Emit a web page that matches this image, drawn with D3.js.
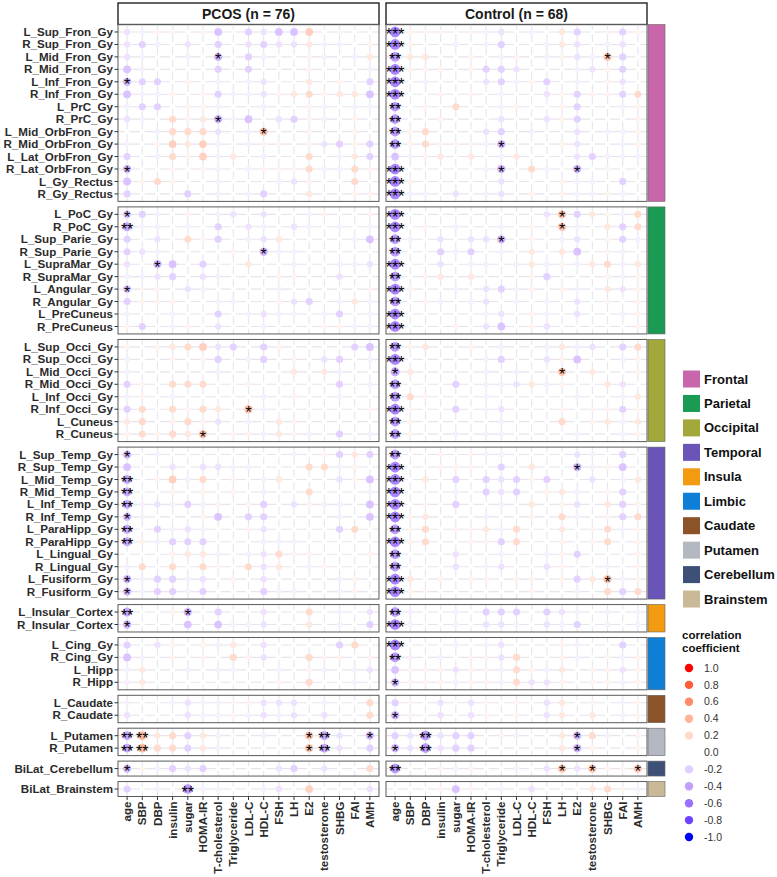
<!DOCTYPE html>
<html>
<head>
<meta charset="utf-8">
<script src="https://cdn.jsdelivr.net/npm/d3@7"></script>
<style>
  body { margin: 0; background: #fff; }
  svg { display: block; font-family: "Liberation Sans", Arial, sans-serif; }
</style>
</head>
<body>
<svg id="chart"></svg>
<script>
var W = 777, H = 877;

// clinical variables (x axis)
var variables = ["age", "SBP", "DBP", "insulin", "sugar", "HOMA-IR", "T-cholesterol", "Triglyceride",
  "LDL-C", "HDL-C", "FSH", "LH", "E2", "testosterone", "SHBG", "FAI", "AMH"];

var regions = ["Frontal", "Parietal", "Occipital", "Temporal", "Insula", "Limbic", "Caudate", "Putamen", "Cerebellum", "Brainstem"];
var regionColors = ["#C966AB", "#1B9A53", "#A3A83B", "#6B54B8", "#F29B11", "#0E7ED6", "#8C5228", "#B4B9C1", "#3D5078", "#C9B996"];

var frontalRois = ["L_Sup_Fron_Gy", "R_Sup_Fron_Gy", "L_Mid_Fron_Gy", "R_Mid_Fron_Gy", "L_Inf_Fron_Gy", "R_Inf_Fron_Gy",
  "L_PrC_Gy", "R_PrC_Gy", "L_Mid_OrbFron_Gy", "R_Mid_OrbFron_Gy", "L_Lat_OrbFron_Gy", "R_Lat_OrbFron_Gy", "L_Gy_Rectus", "R_Gy_Rectus"];
var parietalRois = ["L_PoC_Gy", "R_PoC_Gy", "L_Sup_Parie_Gy", "R_Sup_Parie_Gy", "L_SupraMar_Gy", "R_SupraMar_Gy",
  "L_Angular_Gy", "R_Angular_Gy", "L_PreCuneus", "R_PreCuneus"];
var occipitalRois = ["L_Sup_Occi_Gy", "R_Sup_Occi_Gy", "L_Mid_Occi_Gy", "R_Mid_Occi_Gy", "L_Inf_Occi_Gy", "R_Inf_Occi_Gy", "L_Cuneus", "R_Cuneus"];
var temporalRois = ["L_Sup_Temp_Gy", "R_Sup_Temp_Gy", "L_Mid_Temp_Gy", "R_Mid_Temp_Gy", "L_Inf_Temp_Gy", "R_Inf_Temp_Gy",
  "L_ParaHipp_Gy", "R_ParaHipp_Gy", "L_Lingual_Gy", "R_Lingual_Gy", "L_Fusiform_Gy", "R_Fusiform_Gy"];
var insulaRois = ["L_Insular_Cortex", "R_Insular_Cortex"];
var limbicRois = ["L_Cing_Gy", "R_Cing_Gy", "L_Hipp", "R_Hipp"];
var caudateRois = ["L_Caudate", "R_Caudate"];
var putamenRois = ["L_Putamen", "R_Putamen"];
var cerebellumRois = ["BiLat_Cerebellum"];
var brainstemRois = ["BiLat_Brainstem"];
var regionRois = [frontalRois, parietalRois, occipitalRois, temporalRois, insulaRois, limbicRois, caudateRois, putamenRois, cerebellumRois, brainstemRois];

// correlation, one char per variable (see codeValue)
var codeValue = { "0": 0, "1": 0.06, "2": 0.12, "3": 0.19, "4": 0.25, "5": 0.3, "6": 0.36,
  "a": -0.06, "b": -0.12, "c": -0.19, "d": -0.25, "e": -0.3, "f": -0.36, "g": -0.42, "i": -0.52 };

var pcosR = [
  "ba1101d0cbdd40100", "bca0b0c0bcbb2aa01", "ba00a0e0ca001a0a2", "da0000c0c0001000a", "ecc010a0ab002010c",
  "daa101caab123122d", "acc011a00a001a0aa", "ba0312ead0bc1a010", "00a333b0a50010010", "a01424a0a1101bc1c",
  "c0a314a20a0030a2c", "e00101a0a1113aa31", "d13100a000ab10030", "c000c0a0ac0020011",
  "dca010ab0b00a1001", "faa0a0c0ba0ba0a0a", "c0b031c0ab20000ad", "cba000010eaa00000", "b0ed0c00200a00aab",
  "aabc0ba0001100b00", "d110ba0000a000001", "c11100aa001bc0a2a", "a00a00c0abaa0ac0a", "1c0a10b00a00011aa",
  "101234bc0c10000cd", "a00101c0ac010bc0a", "a00000a0000202a00", "c1033300100000c0a", "a10a00000a0100a00",
  "c30313205a0000001", "230131b0a02100000", "131325011a21a0c0a",
  "e0a00000000a01c2c", "d00b0bbaa00033a10", "f014a3010a2000b1d", "f00101010a003000a", "fabaca101c0b1aa0d",
  "ea0001d0cc0000a0d", "f0caba001b0000c30", "f1accc000aaa00000", "000122a0ab3110001", "a30303103b20a1000",
  "eaccab010b0000a10", "eaccac000caa00a10",
  "f001e0c00b0030a0b", "e000d0daab0020a0c",
  "c0b101a20b0000c30", "da0101031b0031101", "a200a0aa00a01a0ab", "a20000000010300a0",
  "a00abaa11bbb0a003", "b000baa1abab0b003",
  "f623c2a00a005fb0e", "f633c2a000005fb0c",
  "e1acbc0000bc0b003",
  "c0a0gaa00ab04000b"
];
var controlR = [
  "i11101ab0a02c01c1", "i100a0ac00a2b0ab0", "g220010a10a1ba5c0", "i11101ccb000ab1c0", "i0a000bca1c0a01b0",
  "i001010a00b1c11c3", "g010300a1001c00a1", "g001000b00b1c0001", "g13000bc0a00b0aa1", "g13111ae0001b00a1",
  "da12020a2000bcaaa", "i00000ae03a0e0100", "i100000b0001aa0c0", "iaa0b0ab0101aa1a0",
  "i000000000b5c21a3", "i010a00a0105a02c3", "ga0b0bbe010ab01ca", "g00cac0a0202d01a0", "i00b0aa0a2a1a23a2",
  "g012020001c0001a1", "i100a0bca101a02b1", "g01a0ab0a0a0b0101", "i00000ab01a0b00a1", "i00010bd01b000001",
  "g120010a00a2ab0c3", "i00000ac00b1d00a1", "f20000a0a00502001", "g000c0aab2a1002b0", "g31000a00000a00a2",
  "i100c0ab0001011c1", "g100000a0003012a2", "g100a0aa0000a00a1",
  "g00101aa0000ba0c0", "i001110c0200ea1d0", "i020c0cbc1c00b0a2", "i000a0cbc012a01c0", "i010c00a0201b02c1",
  "i12000a00103a01c3", "g130112a3002013a1", "i130011c300101301", "g000b00a00a1c0001", "g000b0ab00b100a01",
  "i20101101101c25a1", "i11000000100a03c3",
  "ga00a0ccc0cba0a0a", "ia00a0bba0bac0a0a",
  "i000a0ab0001a00c0", "ga0a011b3001a01a1", "d111b11a31a2011b1", "e111a11a3bb1011a1",
  "c10b0b1010b2010a1", "e10b0b1010b2020a1",
  "cbgbcc01a002e3a01", "ebgbcc000002e1001",
  "g001a100a0b5b5115",
  "0001d10a0b000231a"
];

// number of asterisks in the age column, one digit per ROI
var pcosAgeStars = "00001000000100" + "1200001000" + "00000000" + "102221220011" + "21" + "0000" + "00" + "22" + "1" + "0";
var controlAgeStars = "33233322220333" + "3322323233" + "23122322" + "233333232233" + "23" + "3201" + "01" + "01" + "2" + "0";

// other significant cells
var pcosStars = [
  ["L_Mid_Fron_Gy", "T-cholesterol", 1], ["R_PrC_Gy", "T-cholesterol", 1], ["L_Mid_OrbFron_Gy", "HDL-C", 1],
  ["R_Sup_Parie_Gy", "HDL-C", 1], ["L_SupraMar_Gy", "DBP", 1], ["R_Inf_Occi_Gy", "LDL-C", 1],
  ["R_Cuneus", "HOMA-IR", 1], ["L_Insular_Cortex", "sugar", 1],
  ["L_Putamen", "SBP", 2], ["L_Putamen", "E2", 1], ["L_Putamen", "testosterone", 2], ["L_Putamen", "AMH", 1],
  ["R_Putamen", "SBP", 2], ["R_Putamen", "E2", 1], ["R_Putamen", "testosterone", 2],
  ["BiLat_Brainstem", "sugar", 2]
];
var controlStars = [
  ["L_Mid_Fron_Gy", "SHBG", 1], ["R_Mid_OrbFron_Gy", "Triglyceride", 1], ["R_Lat_OrbFron_Gy", "Triglyceride", 1],
  ["R_Lat_OrbFron_Gy", "E2", 1], ["L_PoC_Gy", "LH", 1], ["R_PoC_Gy", "LH", 1], ["L_Sup_Parie_Gy", "Triglyceride", 1],
  ["L_Mid_Occi_Gy", "LH", 1], ["R_Sup_Temp_Gy", "E2", 1], ["L_Fusiform_Gy", "SHBG", 1],
  ["L_Putamen", "DBP", 2], ["L_Putamen", "E2", 1], ["R_Putamen", "DBP", 2], ["R_Putamen", "E2", 1],
  ["BiLat_Cerebellum", "LH", 1], ["BiLat_Cerebellum", "testosterone", 1], ["BiLat_Cerebellum", "AMH", 1]
];

var legendTicks = [1.0, 0.8, 0.6, 0.4, 0.2, 0.0, -0.2, -0.4, -0.6, -0.8, -1.0];

var svg = d3.select("#chart").attr("width", W).attr("height", H);
svg.append("rect").attr("width", W).attr("height", H).attr("fill", "#fff");

var color = d3.scaleLinear().domain([-1, 0, 1]).range(["blue", "white", "red"]).interpolate(d3.interpolateLab);
var radius = d3.scaleLinear().domain([0, 1]).range([2.5, 8]);

var allRois = [].concat.apply([], regionRois);

// vertical layout: facets with free space
var panelTop = 24.5, panelBottom = 796.5, gap = 5.5;
var unit = (panelBottom - panelTop - gap * (regions.length - 1)) / (allRois.length + 0.2 * regions.length);
var bands = [];
var yy = panelTop;
regionRois.forEach(function(rois, k) {
  var h = (rois.length + 0.2) * unit;
  bands.push({ region: regions[k], color: regionColors[k], rois: rois, top: yy, bottom: yy + h,
    y: d3.scalePoint().domain(rois).range([yy, yy + h]).padding(0.6) });
  yy += h + gap;
});

var panels = [
  { title: "PCOS (n = 76)", left: 118, right: 379, r: pcosR, ageStars: pcosAgeStars, stars: pcosStars },
  { title: "Control (n = 68)", left: 386, right: 647, r: controlR, ageStars: controlAgeStars, stars: controlStars }
];

var defs = svg.append("defs");

panels.forEach(function(p, pi) {
  var x = d3.scalePoint().domain(variables).range([p.left, p.right]).padding(0.6);

  // star lookup
  var starMap = {};
  allRois.forEach(function(roi, i) {
    var n = +p.ageStars.charAt(i);
    if (n > 0) starMap[roi + "|age"] = n;
  });
  p.stars.forEach(function(s) { starMap[s[0] + "|" + s[1]] = s[2]; });

  // strip
  svg.append("rect")
    .attr("x", p.left).attr("y", 3)
    .attr("width", p.right - p.left).attr("height", panelTop - 3)
    .attr("fill", "#fff").attr("stroke", "#111").attr("stroke-width", 1.3);
  svg.append("text")
    .attr("x", (p.left + p.right) / 2).attr("y", 18.5)
    .attr("text-anchor", "middle")
    .style("font-size", "14px").style("font-weight", "bold").style("fill", "#1a1a1a")
    .text(p.title);

  bands.forEach(function(b, bi) {
    var clipId = "clip-" + pi + "-" + bi;
    defs.append("clipPath").attr("id", clipId)
      .append("rect").attr("x", p.left).attr("y", b.top)
      .attr("width", p.right - p.left).attr("height", b.bottom - b.top);

    var g = svg.append("g").attr("clip-path", "url(#" + clipId + ")");

    // grid
    g.selectAll(".gx").data(variables).enter().append("line")
      .attr("x1", function(d) { return x(d); }).attr("x2", function(d) { return x(d); })
      .attr("y1", b.top).attr("y2", b.bottom)
      .attr("stroke", "#e6e5ec").attr("stroke-width", 1.1);
    g.selectAll(".gy").data(b.rois).enter().append("line")
      .attr("x1", p.left).attr("x2", p.right)
      .attr("y1", function(d) { return b.y(d); }).attr("y2", function(d) { return b.y(d); })
      .attr("stroke", "#e6e5ec").attr("stroke-width", 1.1);

    // cells
    var cells = [];
    b.rois.forEach(function(roi) {
      var code = p.r[allRois.indexOf(roi)];
      variables.forEach(function(v, j) {
        cells.push({ roi: roi, v: v, r: codeValue[code.charAt(j)], stars: starMap[roi + "|" + v] || 0 });
      });
    });

    g.selectAll("circle").data(cells).enter().append("circle")
      .attr("cx", function(d) { return x(d.v); })
      .attr("cy", function(d) { return b.y(d.roi); })
      .attr("r", function(d) { return radius(Math.abs(d.r)); })
      .attr("fill", function(d) { return color(d.r); });

    g.selectAll(".star").data(cells.filter(function(d) { return d.stars > 0; })).enter().append("text")
      .attr("x", function(d) { return x(d.v); })
      .attr("y", function(d) { return b.y(d.roi) + 8.5; })
      .attr("text-anchor", "middle")
      .style("font-size", "16px").style("fill", "#000")
      .text(function(d) { return "*".repeat(d.stars); });

    // panel border
    svg.append("rect")
      .attr("x", p.left).attr("y", b.top)
      .attr("width", p.right - p.left).attr("height", b.bottom - b.top)
      .attr("fill", "none").attr("stroke", "#5a5a5a").attr("stroke-width", 1);

    if (pi === 0) {
      // y axis labels + ticks
      svg.selectAll(null).data(b.rois).enter().append("line")
        .attr("x1", p.left - 3.5).attr("x2", p.left)
        .attr("y1", function(d) { return b.y(d); }).attr("y2", function(d) { return b.y(d); })
        .attr("stroke", "#333").attr("stroke-width", 1);
      svg.selectAll(null).data(b.rois).enter().append("text")
        .attr("x", p.left - 5).attr("y", function(d) { return b.y(d); })
        .attr("dy", "0.35em").attr("text-anchor", "end")
        .style("font-size", "11.6px").style("font-weight", "bold").style("fill", "#2b2b2b")
        .text(function(d) { return d; });
    } else {
      // region bar on the right
      svg.append("rect")
        .attr("x", p.right + 1).attr("y", b.top)
        .attr("width", 17).attr("height", b.bottom - b.top)
        .attr("fill", b.color).attr("stroke", "#666").attr("stroke-width", 0.6);
    }
  });

  // x axis
  svg.selectAll(null).data(variables).enter().append("line")
    .attr("x1", function(d) { return x(d); }).attr("x2", function(d) { return x(d); })
    .attr("y1", panelBottom).attr("y2", panelBottom + 3.5)
    .attr("stroke", "#333").attr("stroke-width", 1);
  svg.selectAll(null).data(variables).enter().append("text")
    .attr("transform", function(d) { return "translate(" + x(d) + "," + (panelBottom + 5) + ") rotate(-90)"; })
    .attr("dy", "0.35em").attr("text-anchor", "end")
    .style("font-size", "11.6px").style("font-weight", "bold").style("fill", "#2b2b2b")
    .text(function(d) { return d; });
});

// region legend
var rl = svg.append("g");
regions.forEach(function(name, i) {
  var cy = 379 + 24.45 * i;
  rl.append("rect").attr("x", 683).attr("y", cy - 8.5).attr("width", 17).attr("height", 17).attr("fill", regionColors[i]);
  rl.append("text").attr("x", 704).attr("y", cy).attr("dy", "0.35em")
    .style("font-size", "13px").style("font-weight", "bold").style("fill", "#111")
    .text(name);
});

// correlation legend
var cl = svg.append("g");
cl.append("text").attr("x", 682).attr("y", 639)
  .style("font-size", "11.5px").style("font-weight", "bold").style("fill", "#111").text("correlation");
cl.append("text").attr("x", 682).attr("y", 652)
  .style("font-size", "11.5px").style("font-weight", "bold").style("fill", "#111").text("coefficient");
legendTicks.forEach(function(v, i) {
  var cy = 668 + 16.9 * i;
  cl.append("circle").attr("cx", 689).attr("cy", cy).attr("r", 4.2).attr("fill", color(v));
  cl.append("text").attr("x", 704).attr("y", cy).attr("dy", "0.35em")
    .style("font-size", "10.5px").style("fill", "#333")
    .text(v.toFixed(1));
});
</script>
</body>
</html>
